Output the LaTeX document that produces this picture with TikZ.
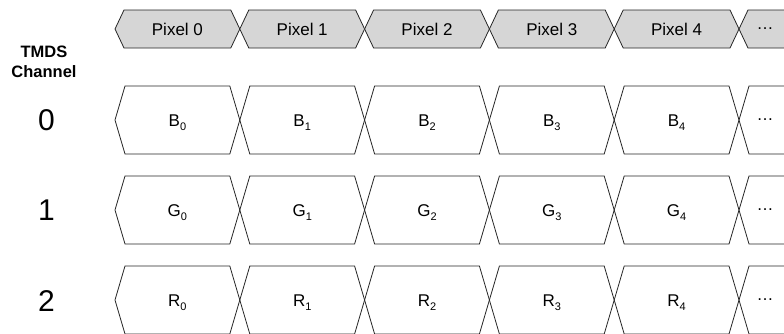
\documentclass[tikz,border=0pt]{standalone}
\usepackage{fontspec}
\setmainfont{Liberation Sans}
\newcommand{\subsc}[1]{\raisebox{-0.45ex}{\fontsize{11}{11}\selectfont #1}}
\begin{document}
\begin{tikzpicture}[x=1pt,y=-1pt,
  cell/.style={draw=black!85,line width=0.8pt,line join=miter},
  hdrcell/.style={cell,fill=black!16},
  lbl/.style={font=\fontsize{17}{20}\selectfont,inner sep=0pt},
  chan/.style={font=\fontsize{30}{34}\selectfont,inner sep=0pt},
  title/.style={font=\fontsize{16.5}{20}\selectfont\bfseries,inner sep=0pt,align=center}]
\clip (0,0) rectangle (784,333);
\fill[white] (0,0) rectangle (784,333);
% header row
\foreach \k in {0,...,5}{
  \pgfmathsetmacro\xa{115+124.8*\k}
  \pgfmathsetmacro\xb{115+124.8*(\k+1)}
  \draw[hdrcell] (\xa,29) -- (\xa+9,10) -- (\xb-9,10) -- (\xb,29) -- (\xb-9,48) -- (\xa+9,48) -- cycle;
}
% data rows
\foreach \ym in {120,210,300}{
  \foreach \k in {0,...,5}{
    \pgfmathsetmacro\xa{115+124.8*\k}
    \pgfmathsetmacro\xb{115+124.8*(\k+1)}
    \draw[cell] (\xa,\ym) -- (\xa+10,\ym-34) -- (\xb-10,\ym-34) -- (\xb,\ym) -- (\xb-10,\ym+34) -- (\xa+10,\ym+34) -- cycle;
  }
}
% header labels
\node[lbl] (p0) at (177.4,29) {Pixel 0};
\node[lbl] (p1) at (302.2,29) {Pixel 1};
\node[lbl] (p2) at (427,29) {Pixel 2};
\node[lbl] (p3) at (551.8,29) {Pixel 3};
\node[lbl] (p4) at (676.6,29) {Pixel 4};
\node[lbl] (pd) at (765,29) {\ldots};
% left labels
\node[title] (tmds) at (44,62) {TMDS\\Channel};
\node[chan] (c0) at (46.5,120) {0};
\node[chan] (c1) at (46.5,210) {1};
\node[chan] (c2) at (46.5,301) {2};
% cell labels
\foreach \L/\ym/\r in {B/120/b,G/210/g,R/300/r}{
  \foreach \k in {0,...,4}{
    \node[lbl,anchor=base] (\r\k) at (177.4+124.8*\k,\ym+6) {\L\subsc{\k}};
  }
  \node[lbl] (\r d) at (765,\ym) {\ldots};
}
\end{tikzpicture}
\end{document}
